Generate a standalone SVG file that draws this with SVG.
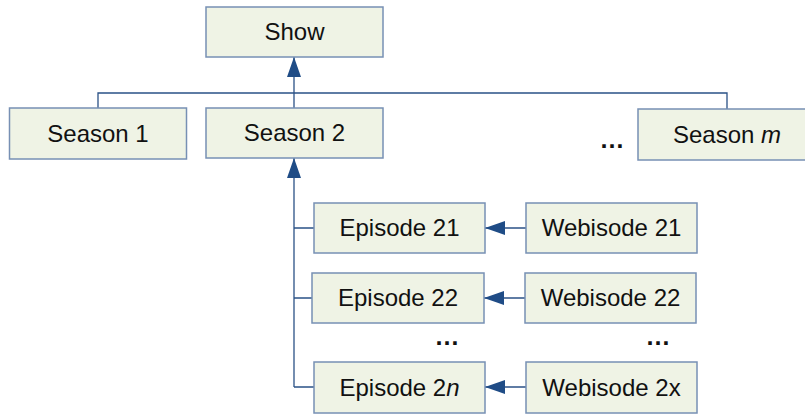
<svg xmlns="http://www.w3.org/2000/svg" width="805" height="414" viewBox="0 0 805 414">
<style>
.box{fill:#EFF3E5;stroke:#7790B4;stroke-width:1.5}
.lbl{font-family:"Liberation Sans",Arial,sans-serif;font-size:24px;fill:#111;text-anchor:middle}
.ln{fill:none;stroke:#2A5186;stroke-width:1.3}
.dots{font-family:"Liberation Sans",Arial,sans-serif;font-size:25px;font-weight:bold;fill:#111;text-anchor:middle}
</style>
<defs>
<marker id="ah" viewBox="0 0 20 14" refX="20" refY="7" markerWidth="20" markerHeight="14" markerUnits="userSpaceOnUse" orient="auto">
<path d="M0,0 L20,7 L0,14 Z" fill="#1F4C86"/>
</marker>
</defs>
<rect width="805" height="414" fill="#fff"/>
<g id="connectors">
<path class="ln" d="M98,108 V93 H727 V109"/>
<path class="ln" d="M294,108 V57" marker-end="url(#ah)"/>
<path class="ln" d="M294,387 V158" marker-end="url(#ah)"/>
<path class="ln" d="M294,228 H314 M294,298 H312 M294,387 H314"/>
<path class="ln" d="M526,228 H485" marker-end="url(#ah)"/>
<path class="ln" d="M525,298 H484" marker-end="url(#ah)"/>
<path class="ln" d="M526,387 H485" marker-end="url(#ah)"/>
</g>
<g id="show"><rect class="box" x="206" y="7" width="177" height="50"/><text class="lbl" x="294.5" y="40">Show</text></g>
<g id="season1"><rect class="box" x="9.5" y="108" width="177" height="51"/><text class="lbl" x="98" y="142">Season 1</text></g>
<g id="season2"><rect class="box" x="206" y="108" width="177" height="50"/><text class="lbl" x="294.5" y="141">Season 2</text></g>
<g id="seasonm"><rect class="box" x="638" y="109" width="177" height="51"/><text class="lbl" x="727" y="143">Season <tspan font-style="italic">m</tspan></text></g>
<text class="dots" x="612" y="148">…</text>
<g id="ep21"><rect class="box" x="314" y="203" width="171" height="50"/><text class="lbl" x="399.5" y="236">Episode 21</text></g>
<g id="ep22"><rect class="box" x="312" y="273" width="172" height="50"/><text class="lbl" x="398" y="306">Episode 22</text></g>
<g id="ep2n"><rect class="box" x="314" y="362" width="171" height="51"/><text class="lbl" x="399.5" y="396">Episode 2<tspan font-style="italic">n</tspan></text></g>
<g id="web21"><rect class="box" x="526" y="203" width="171" height="50"/><text class="lbl" x="611.5" y="236">Webisode 21</text></g>
<g id="web22"><rect class="box" x="525" y="273" width="171" height="50"/><text class="lbl" x="610.5" y="306">Webisode 22</text></g>
<g id="web2x"><rect class="box" x="526" y="362" width="171" height="51"/><text class="lbl" x="611.5" y="396">Webisode 2x</text></g>
<text class="dots" x="447" y="345">…</text>
<text class="dots" x="658" y="345">…</text>
</svg>
